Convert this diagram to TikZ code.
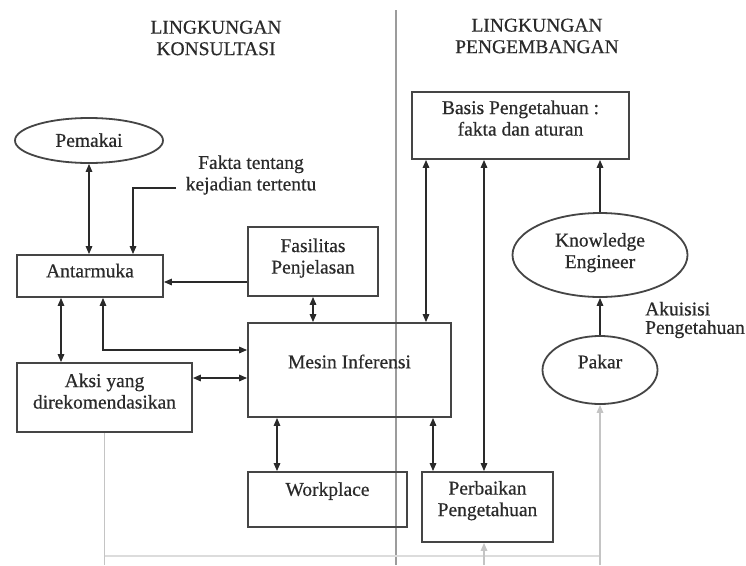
\documentclass[tikz,border=0pt]{standalone}
\usepackage{fontspec}
\setmainfont{Liberation Serif}[FakeBold=0.5]
\usetikzlibrary{arrows.meta,shapes.geometric}

\definecolor{ink}{HTML}{2A2A2A}
\definecolor{edge}{HTML}{454545}
\definecolor{faint}{HTML}{C4C4C4}
\definecolor{fainter}{HTML}{DCDCDC}
\definecolor{divider}{HTML}{9C9C9C}

% centred multi-line text, optionally raised inside its frame
\newcommand\boxtext[2][0pt]{\raisebox{#1}[\height][\depth]{\begin{tabular}{@{}c@{}}#2\end{tabular}}}

\tikzset{
  every node/.style={text=ink, font=\fontsize{19.5}{21.5}\selectfont},
  frame/.style={draw=edge, line width=1.8pt, inner sep=0pt, rectangle},
  oval/.style={draw=edge, line width=1.8pt, inner sep=0pt, ellipse},
  caption/.style={inner sep=0pt, align=center},
  link/.style={draw=ink, line width=1.5pt, >={Triangle[length=8pt,width=6.5pt]}},
  fade/.style={draw=faint, line width=1.6pt, >={Triangle[length=8pt,width=6.5pt]}},
}

\begin{document}
\begin{tikzpicture}[x=1pt, y=-1pt]
\useasboundingbox[fill=white] (0,0) rectangle (746,565);

% divider between the two environments
\draw[divider, line width=2pt] (396,10) -- (396,565);

% section headings
\node[caption] (hkons) at (216,38) {LINGKUNGAN\\KONSULTASI};
\node[caption] (hpeng) at (537,36) {LINGKUNGAN\\PENGEMBANGAN};

% consultation side
\node[oval, minimum width=148pt, minimum height=45pt] (pemakai) at (89,140.5) {\boxtext[-2pt]{Pemakai}};
\node[caption] (fakta) at (251,175) {Fakta tentang\\kejadian tertentu};
\node[frame, minimum width=146pt, minimum height=42pt] (antar) at (90,276) {\boxtext[3pt]{Antarmuka}};
\node[frame, minimum width=130pt, minimum height=69pt] (fasil) at (313,261.5) {\boxtext[3pt]{Fasilitas\\Penjelasan}};
\node[frame, minimum width=203pt, minimum height=94pt] (mesin) at (349.5,370) {\boxtext[6pt]{Mesin Inferensi}};
\node[frame, minimum width=175pt, minimum height=69pt] (aksi) at (104.5,397.5) {\boxtext[4pt]{Aksi yang\\direkomendasikan}};
\node[frame, minimum width=159pt, minimum height=55pt] (work) at (327.5,499.5) {\boxtext[8pt]{Workplace}};

% development side
\node[frame, minimum width=217pt, minimum height=67pt] (basis) at (520.5,125.5) {\boxtext[5pt]{Basis Pengetahuan :\\fakta dan aturan}};
\node[oval, minimum width=175pt, minimum height=84pt] (ke) at (600,255) {\boxtext[2pt]{Knowledge\\Engineer}};
\node[oval, minimum width=115pt, minimum height=68pt] (pakar) at (600,370) {\boxtext[6pt]{Pakar}};
\node[inner sep=0pt, align=left, anchor=west, font=\fontsize{19.5}{18.5}\selectfont] (akuisisi) at (645,320) {Akuisisi\\Pengetahuan};
\node[frame, minimum width=131pt, minimum height=70pt] (perb) at (487.5,507) {\boxtext[6pt]{Perbaikan\\Pengetahuan}};

% free ends of the open connectors
\coordinate (fk) at (176,188);
\coordinate (pakarin) at (600,565);
\coordinate (perbin) at (484,565);
\coordinate (loopfoot) at (104.5,556);
\coordinate (loopend) at (600,556);
\coordinate (aksiout) at (104.5,565);

% consultation connectors
\draw[link, <->] (pemakai) -- (pemakai |- antar.north);
\draw[link, ->] (fk) -| ([xshift=43pt]antar.north);
\draw[link, ->] ([yshift=-20.5pt]fasil.west) -- ([yshift=-20.5pt]fasil.west -| antar.east);
\draw[link, <->] (fasil.south) -- (fasil.south |- mesin.north);
\draw[link, <->] ([xshift=13pt]antar.south) |- ([yshift=20pt]mesin.west);
\draw[link, <->] ([xshift=-29pt]antar.south) -- ([xshift=-29pt]antar.south |- aksi.north);
\draw[link, <->] ([yshift=19.5pt]aksi.east) -- ([yshift=19.5pt]aksi.east -| mesin.west);
\draw[link, <->] ([xshift=-72.5pt]mesin.south) -- ([xshift=-72.5pt]mesin.south |- work.north);

% development connectors
\draw[link, <->] ([xshift=-94.5pt]basis.south) -- ([xshift=-94.5pt]basis.south |- mesin.north);
\draw[link, <->] ([xshift=-36.5pt]basis.south) -- ([xshift=-36.5pt]basis.south |- perb.north);
\draw[link, <->] ([xshift=83.5pt]mesin.south) -- ([xshift=83.5pt]mesin.south |- perb.north);
\draw[link, ->] (ke) -- (ke |- basis.south);
\draw[link, ->] (pakar) -- (ke);

% faded feedback lines along the bottom
\draw[fade] (aksi.south) -- (aksiout);
\draw[fade, draw=fainter] (loopfoot) -- (loopend);
\draw[fade, ->] (perbin) -- (perbin |- perb.south);
\draw[fade, ->] (pakarin) -- (pakar);
\end{tikzpicture}
\end{document}
